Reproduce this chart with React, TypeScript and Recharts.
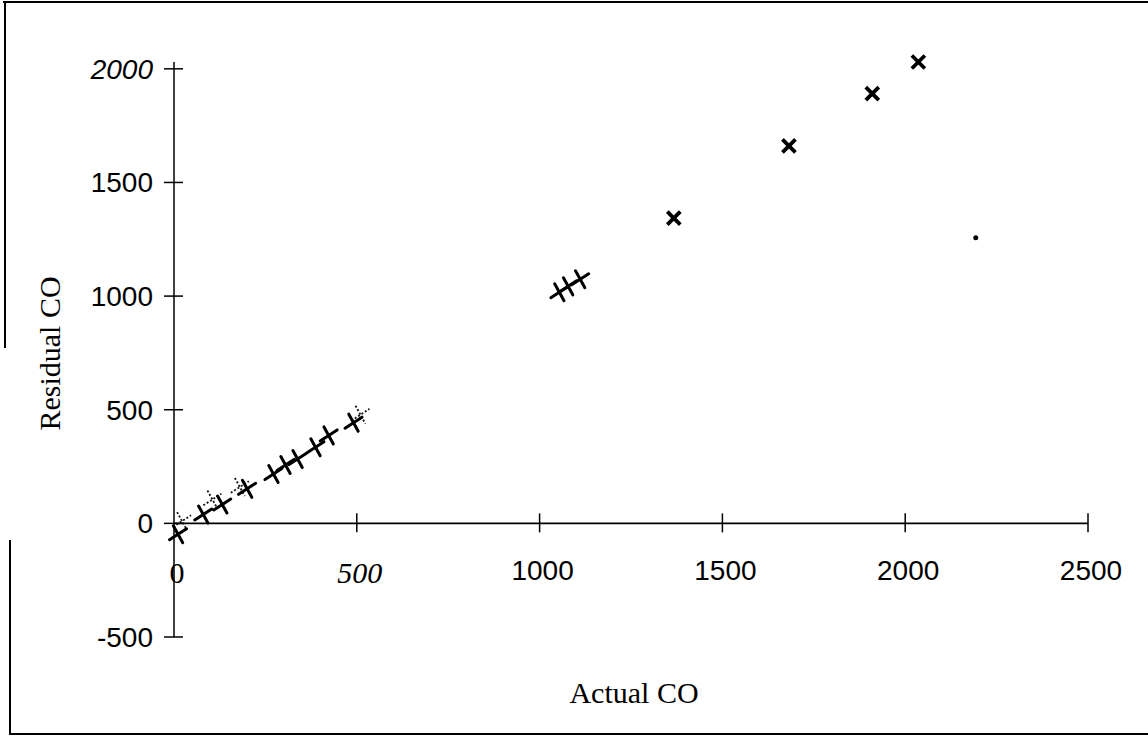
import React from 'react';
import { ScatterChart, Scatter, XAxis, YAxis, ReferenceLine, ReferenceDot } from 'recharts';

// Tick values
const xTicks = [0, 500, 1000, 1500, 2000, 2500];
const yTicks = [-500, 0, 500, 1000, 1500, 2000];

// Low cluster (solid crosses)
const lowX = [11, 80, 132, 200, 272, 305, 338, 387, 423, 491];
const lowY = [-48, 39, 83, 152, 217, 257, 283, 335, 387, 443];

// Ghost (dotted) crosses in the low cluster
const ghostX = [22, 105, 180, 510];
const ghostY = [10, 105, 160, 478];

// Middle cluster (solid crosses)
const midX = [1054, 1078, 1111];
const midY = [1017, 1043, 1074];

// Upper points (bold x markers)
const highX = [1367, 1682, 1910, 2036];
const highY = [1343, 1661, 1891, 2030];

// Single dot
const dotX = [2193];
const dotY = [1257];

const zip = (xs: number[], ys: number[]) => xs.map((x, i) => ({ x, y: ys[i] }));
const lowData = zip(lowX, lowY);
const ghostData = zip(ghostX, ghostY);
const midData = zip(midX, midY);
const highData = zip(highX, highY);
const dotData = zip(dotX, dotY);

const SANS = '"Liberation Sans", Arial, sans-serif';
const SERIF = '"Liberation Serif", "Times New Roman", serif';

const CrossShape = (p: any) => {
  const { cx, cy } = p;
  const s = 8.5;
  return (
    <g stroke="#000" strokeWidth={3} strokeLinecap="round">
      <line x1={cx - s} y1={cy + s * 0.65} x2={cx + s} y2={cy - s * 0.65} />
      <line x1={cx - s * 0.55} y1={cy - s} x2={cx + s * 0.55} y2={cy + s} />
    </g>
  );
};

const GhostShape = (p: any) => {
  const { cx, cy } = p;
  const s = 9;
  return (
    <g stroke="#111" strokeWidth={1.8} strokeDasharray="2 2">
      <line x1={cx - s} y1={cy + s * 0.65} x2={cx + s} y2={cy - s * 0.65} />
      <line x1={cx - s * 0.55} y1={cy - s} x2={cx + s * 0.55} y2={cy + s} />
    </g>
  );
};

const BoldXShape = (p: any) => {
  const { cx, cy } = p;
  const s = 6.5;
  return (
    <g stroke="#000" strokeWidth={3.8}>
      <line x1={cx - s} y1={cy - s} x2={cx + s} y2={cy + s} />
      <line x1={cx - s} y1={cy + s} x2={cx + s} y2={cy - s} />
    </g>
  );
};

const DotShape = (p: any) => <circle cx={p.cx} cy={p.cy} r={2.5} fill="#000" />;

const YTick = (props: any) => {
  const { x, y, payload } = props;
  const v = payload.value;
  return (
    <g>
      <line x1={x - 10} x2={x + 9} y1={y} y2={y} stroke="#000" strokeWidth={1.5} />
      <text
        x={x - 21}
        y={y + 10}
        textAnchor="end"
        fontFamily={SANS}
        fontSize={28}
        fontStyle={v === 2000 ? 'italic' : 'normal'}
        fill="#000"
      >
        {v}
      </text>
    </g>
  );
};

const xTickFont = (v: number) => {
  if (v === 0) return { fontFamily: SERIF, fontSize: 30, fontStyle: 'normal', dy: 60 };
  if (v === 500) return { fontFamily: SERIF, fontSize: 30, fontStyle: 'italic', dy: 60 };
  return { fontFamily: SANS, fontSize: 28, fontStyle: 'normal', dy: 57 };
};

const makeXTick = (v: number) => (p: any) => {
  const { cx, cy } = p;
  const f = xTickFont(v);
  return (
    <g>
      {v !== 0 && <line x1={cx} x2={cx} y1={cy - 10} y2={cy + 9} stroke="#000" strokeWidth={1.5} />}
      <text
        x={cx + 3}
        y={cy + f.dy}
        textAnchor="middle"
        fontFamily={f.fontFamily}
        fontSize={f.fontSize}
        fontStyle={f.fontStyle}
        fill="#000"
      >
        {v}
      </text>
    </g>
  );
};

const YLabel = (p: any) => {
  const vb = p.viewBox || { x: 0, y: 0, width: 0, height: 0 };
  const cx = vb.x + 49;
  const cy = vb.y + vb.height / 2 + 4;
  return (
    <text
      x={cx}
      y={cy}
      transform={`rotate(-90 ${cx} ${cy})`}
      textAnchor="middle"
      dominantBaseline="central"
      fontFamily={SERIF}
      fontSize={30}
      fill="#000"
    >
      Residual CO
    </text>
  );
};

const XLabel = (p: any) => {
  const vb = p.viewBox || { x: 0, y: 0, width: 0, height: 0 };
  return (
    <text
      x={vb.x + vb.width / 2 + 3}
      y={vb.y + 66}
      textAnchor="middle"
      fontFamily={SERIF}
      fontSize={30}
      fill="#000"
    >
      Actual CO
    </text>
  );
};

export default function App() {
  return (
    <div style={{ position: 'absolute', left: 0, top: 0, width: 1148, height: 738, background: '#fff' }}>
      {/* frame */}
      <div style={{ position: 'absolute', left: 3, top: 1, width: 1145, height: 2, background: '#000' }} />
      <div style={{ position: 'absolute', left: 10, top: 733, width: 1138, height: 2, background: '#000' }} />
      <div style={{ position: 'absolute', left: 4, top: 1, width: 2, height: 347, background: '#000' }} />
      <div style={{ position: 'absolute', left: 9, top: 540, width: 2, height: 195, background: '#000' }} />
      <ScatterChart
        width={1148}
        height={738}
        margin={{ top: 62, right: 60, bottom: 0, left: 0 }}
        style={{ position: 'absolute', left: 0, top: 0 }}
      >
        <XAxis
          dataKey="x"
          type="number"
          domain={[0, 2500]}
          ticks={xTicks}
          axisLine={false}
          tickLine={false}
          tick={false}
          height={101}
          label={XLabel}
        />
        <YAxis
          dataKey="y"
          type="number"
          domain={[-500, 2000]}
          ticks={yTicks}
          width={174}
          tickSize={0}
          tickMargin={0}
          tickLine={false}
          axisLine={{ stroke: '#000', strokeWidth: 1.5 }}
          tick={YTick}
          label={YLabel}
        />
        <ReferenceLine
          segment={[{ x: 0, y: 0 }, { x: 2500, y: 0 }]}
          stroke="#000"
          strokeWidth={1.8}
        />
        {xTicks.map((t) => (
          <ReferenceDot key={t} x={t} y={0} r={0} shape={makeXTick(t)} />
        ))}
        <Scatter data={ghostData} shape={GhostShape} isAnimationActive={false} />
        <Scatter data={lowData} shape={CrossShape} isAnimationActive={false} />
        <Scatter data={midData} shape={CrossShape} isAnimationActive={false} />
        <Scatter data={highData} shape={BoldXShape} isAnimationActive={false} />
        <Scatter data={dotData} shape={DotShape} isAnimationActive={false} />
      </ScatterChart>
    </div>
  );
}
